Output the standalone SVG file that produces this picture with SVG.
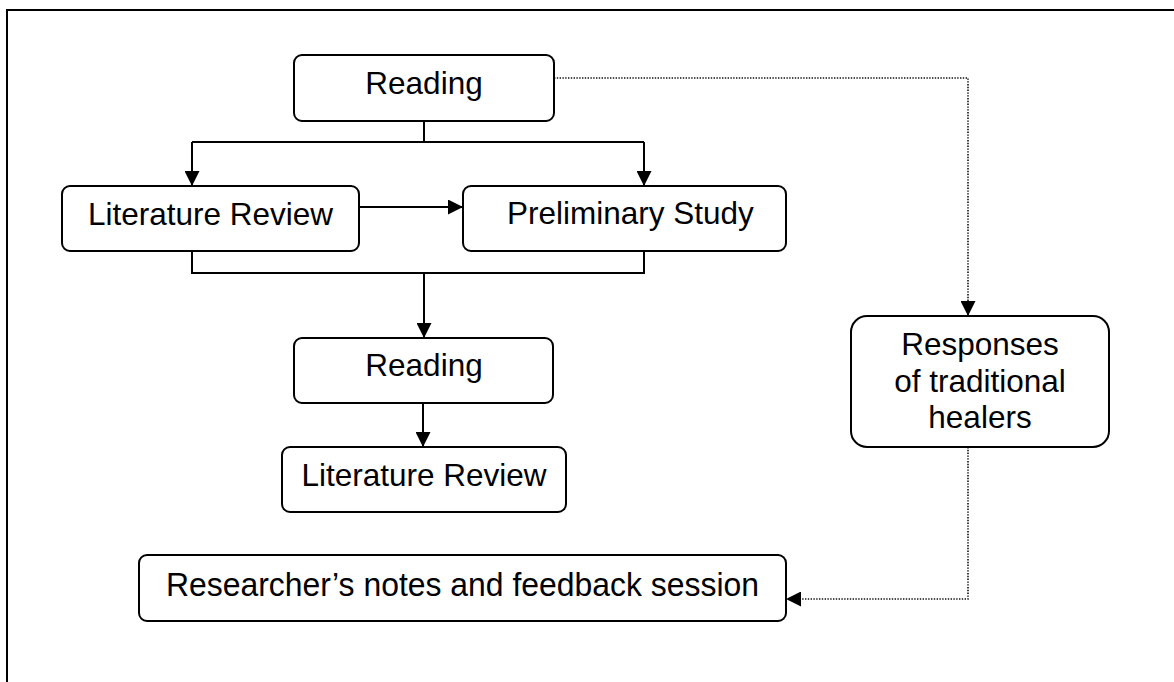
<svg xmlns="http://www.w3.org/2000/svg" width="1174" height="682" viewBox="0 0 1174 682">
  <style>
    .box { fill: #ffffff; stroke: #000000; stroke-width: 2; }
    .lbl { font-family: "Liberation Sans", Arial, sans-serif; font-size: 31.5px; fill: #000000; }
    .mid { text-anchor: middle; }
    .solid { fill: none; stroke: #000000; stroke-width: 2; }
    .dot { fill: none; stroke: #111111; stroke-width: 1.6; stroke-dasharray: 1.4 1.4; }
  </style>
  <defs>
    <marker id="arrow" viewBox="0 0 15 15" refX="15" refY="7.5" markerWidth="15" markerHeight="15" markerUnits="userSpaceOnUse" orient="auto">
      <path d="M0,0 L15,7.5 L0,15 z" fill="#000000"/>
    </marker>
  </defs>
  <rect width="1174" height="682" fill="#ffffff"/>
  <path id="frame" d="M7,682 V10 H1174" fill="none" stroke="#000000" stroke-width="2"/>

  <g id="connectors">
    <path class="solid" d="M424,121 V142"/>
    <path class="solid" d="M192,142 H644"/>
    <path class="solid" d="M192,142 V186" marker-end="url(#arrow)"/>
    <path class="solid" d="M644,142 V186" marker-end="url(#arrow)"/>
    <path class="solid" d="M359,207 H463" marker-end="url(#arrow)"/>
    <path class="solid" d="M192,251 V273 H644 V251"/>
    <path class="solid" d="M424,273 V338" marker-end="url(#arrow)"/>
    <path class="solid" d="M423,403 V447" marker-end="url(#arrow)"/>
    <path class="dot" d="M554,78 H968 V316" marker-end="url(#arrow)"/>
    <path class="dot" d="M968,447 V599 H786" marker-end="url(#arrow)"/>
  </g>

  <g id="reading1">
    <rect class="box" x="294" y="55" width="260" height="66" rx="8"/>
    <text class="lbl mid" x="424" y="94">Reading</text>
  </g>
  <g id="literature-review1">
    <rect class="box" x="62" y="186" width="297" height="65" rx="8"/>
    <text class="lbl mid" x="210.5" y="225">Literature Review</text>
  </g>
  <g id="preliminary-study">
    <rect class="box" x="463" y="186" width="323" height="65" rx="8"/>
    <text class="lbl" x="507" y="224">Preliminary Study</text>
  </g>
  <g id="reading2">
    <rect class="box" x="294" y="338" width="259" height="65" rx="8"/>
    <text class="lbl mid" x="424" y="376">Reading</text>
  </g>
  <g id="literature-review2">
    <rect class="box" x="282" y="447" width="284" height="65" rx="8"/>
    <text class="lbl mid" x="424" y="486">Literature Review</text>
  </g>
  <g id="responses">
    <rect class="box" x="851" y="316" width="258" height="131" rx="16"/>
    <text class="lbl mid" x="980" y="355">Responses</text>
    <text class="lbl mid" x="980" y="392">of traditional</text>
    <text class="lbl mid" x="980" y="428">healers</text>
  </g>
  <g id="researcher-notes">
    <rect class="box" x="139" y="555" width="647" height="66" rx="8"/>
    <text class="lbl mid" x="462.5" y="596" style="font-size:34px" textLength="593" lengthAdjust="spacingAndGlyphs">Researcher’s notes and feedback session</text>
  </g>
</svg>
